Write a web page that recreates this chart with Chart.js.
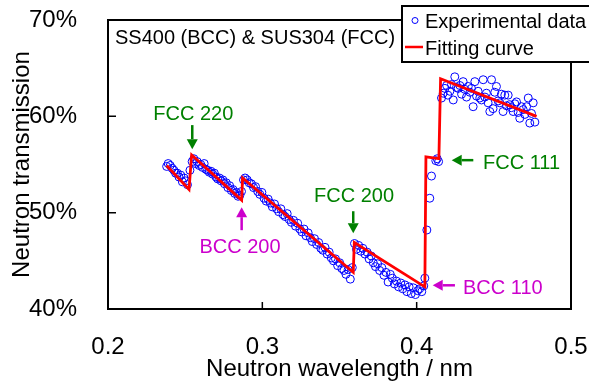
<!DOCTYPE html>
<html>
<head>
<meta charset="utf-8">
<title>Neutron transmission</title>
<script src="https://cdn.jsdelivr.net/npm/chart.js@4.4.1/dist/chart.umd.min.js"></script>
<style>
  body { margin: 0; background: #fff; }
  #wrap { width: 589px; height: 386px; }
</style>
</head>
<body>
<div id="wrap"><canvas id="chart" width="589" height="386"></canvas></div>
<script>
// Datos (longitud de onda en nm, transmisión en %)
const expWavelength = [
  0.2380, 0.2390, 0.2403, 0.2416, 0.2427, 0.2438, 0.2449, 0.2460, 0.2471, 0.2482, 0.2493, 0.2504, 0.2515, 0.2531,
  0.2545, 0.2556, 0.2567, 0.2578, 0.2590, 0.2601, 0.2612, 0.2623, 0.2634, 0.2645, 0.2656, 0.2667, 0.2678, 0.2689, 0.2700,
  0.2711, 0.2722, 0.2733, 0.2744, 0.2755, 0.2766, 0.2777, 0.2788, 0.2799, 0.2810, 0.2821, 0.2832, 0.2843, 0.2854, 0.2865,
  0.2878, 0.2888, 0.2902, 0.2915, 0.2929, 0.2943, 0.2956, 0.2970, 0.2984, 0.2997, 0.3011, 0.3025, 0.3038, 0.3052, 0.3065,
  0.3079, 0.3093, 0.3106, 0.3120, 0.3134, 0.3147, 0.3161, 0.3174, 0.3188, 0.3202, 0.3215, 0.3229, 0.3243, 0.3256, 0.3270,
  0.3283, 0.3297, 0.3311, 0.3324, 0.3338, 0.3352, 0.3365, 0.3379, 0.3392, 0.3406, 0.3420, 0.3433, 0.3447, 0.3461, 0.3474,
  0.3488, 0.3501, 0.3515, 0.3529, 0.3542, 0.3556, 0.3570, 0.3583,
  0.3597, 0.3610, 0.3624, 0.3638, 0.3651, 0.3665, 0.3679, 0.3692, 0.3706, 0.3719, 0.3733, 0.3747, 0.3760, 0.3774, 0.3788,
  0.3801, 0.3815, 0.3829, 0.3842, 0.3856, 0.3869, 0.3883, 0.3897, 0.3910, 0.3924, 0.3937, 0.3951, 0.3965, 0.3978, 0.3992,
  0.4006, 0.4019, 0.4033, 0.4046, 0.4053, 0.4066, 0.4085, 0.4096, 0.4124, 0.4133, 0.4142,
  0.4161, 0.4172, 0.4183, 0.4194, 0.4202, 0.4215, 0.4226, 0.4237, 0.4247, 0.4258, 0.4269, 0.4280, 0.4291, 0.4301, 0.4312,
  0.4323, 0.4334, 0.4345, 0.4355, 0.4366, 0.4377, 0.4388, 0.4398, 0.4409, 0.4420, 0.4431, 0.4442, 0.4452, 0.4463, 0.4474,
  0.4485, 0.4495, 0.4506, 0.4517, 0.4528, 0.4539, 0.4549, 0.4560, 0.4571, 0.4582, 0.4593, 0.4604, 0.4614, 0.4625, 0.4636,
  0.4647, 0.4658, 0.4668, 0.4679, 0.4690, 0.4701, 0.4712, 0.4723, 0.4733, 0.4744, 0.4755, 0.4766
];
const expTransmission = [
  54.8, 55.1, 54.9, 54.6, 54.4, 54.1, 54.1, 53.7, 53.9, 53.2, 53.6, 53.3, 52.9, 54.4,
  55.3, 55.6, 55.1, 55.3, 54.9, 55.0, 54.7, 55.1, 54.5, 54.4, 54.2, 54.3, 54.0, 54.1, 53.7,
  53.5, 53.6, 53.3, 53.4, 53.0, 53.1, 52.6, 52.8, 52.3, 52.4, 52.0, 52.1, 51.7, 51.8, 52.2,
  53.4, 53.6, 53.4, 53.1, 53.0, 52.6, 52.7, 52.2, 51.9, 52.1, 51.5, 51.2, 51.4, 51.0, 50.6,
  50.9, 50.4, 50.1, 50.4, 49.8, 49.6, 49.9, 49.3, 49.0, 49.2, 48.6, 48.9, 48.3, 48.0, 48.3,
  47.6, 47.9, 47.4, 47.0, 47.3, 46.7, 46.9, 46.3, 46.1, 46.4, 45.7, 45.9, 45.3, 45.0, 45.2,
  44.5, 44.8, 44.2, 44.0, 43.6, 44.1, 43.1, 44.3,
  46.8, 46.2, 46.6, 46.0, 46.3, 45.7, 45.9, 45.2, 45.5, 44.8, 44.4, 44.7, 44.0, 44.3, 43.5,
  43.8, 42.8, 43.6, 43.2, 42.6, 42.9, 42.3, 42.7, 42.1, 42.5, 41.8, 42.3, 41.6, 42.2, 41.5,
  41.9, 42.1, 41.8, 42.4, 43.2, 48.2, 51.5, 53.8, 55.4, 55.6, 55.3,
  61.9, 62.4, 62.9, 63.2, 62.2, 62.6, 63.3, 61.7, 64.1, 63.0, 62.9, 63.2, 62.3, 63.6, 62.8,
  62.0, 63.1, 62.5, 62.9, 61.0, 63.6, 62.1, 62.6, 61.9, 61.7, 63.8, 62.0, 62.4, 61.4, 60.5,
  63.8, 60.8, 62.5, 63.1, 61.6, 61.4, 62.3, 60.5, 62.2, 61.1, 62.2, 61.2, 60.9, 60.5, 61.3,
  61.5, 60.4, 59.8, 61.0, 60.7, 60.2, 61.0, 61.9, 59.3, 60.3, 61.4, 59.4
];
const fitWavelength = [0.2380, 0.2525, 0.2542, 0.2866, 0.2872, 0.3589, 0.3596, 0.4053, 0.4060, 0.4144, 0.4155, 0.4777];
const fitTransmission = [54.9, 52.4, 56.0, 51.3, 53.6, 43.8, 46.9, 42.3, 55.8, 55.6, 63.9, 60.0];

const xTicks = [0.2, 0.3, 0.4, 0.5];
const xTickLabels = ['0.2', '0.3', '0.4', '0.5'];
const yTicks = [40, 50, 60, 70];
const yTickLabels = ['40%', '50%', '60%', '70%'];
const seriesNames = ['Experimental data', 'Fitting curve'];
const sampleTitle = 'SS400 (BCC) & SUS304 (FCC)';

const FONT = '"Liberation Sans", Arial, sans-serif';
const GREEN = '#008000';
const MAGENTA = '#cc00cc';

// Anotaciones de los bordes de Bragg (en unidades de datos)
const edges = [
  { text: 'FCC 220', color: GREEN, tx: 0.2553, ty: 59.61, align: 'center', from: [0.2546, 59.09], to: [0.2546, 56.59] },
  { text: 'BCC 200', color: MAGENTA, tx: 0.2855, ty: 45.82, align: 'center', from: [0.2866, 48.18], to: [0.2866, 50.57] },
  { text: 'FCC 200', color: GREEN, tx: 0.3594, ty: 51.12, align: 'center', from: [0.3589, 50.15], to: [0.3589, 47.87] },
  { text: 'FCC 111', color: GREEN, tx: 0.4430, ty: 54.49, align: 'left', from: [0.4367, 55.45], to: [0.4227, 55.45] },
  { text: 'BCC 110', color: MAGENTA, tx: 0.4300, ty: 41.53, align: 'left', from: [0.4248, 42.46], to: [0.4104, 42.46] }
];

function drawArrow(ctx, x1, y1, x2, y2, color) {
  const ang = Math.atan2(y2 - y1, x2 - x1);
  const head = 10, half = 5.5;
  const bx = x2 - head * Math.cos(ang);
  const by = y2 - head * Math.sin(ang);
  ctx.strokeStyle = color;
  ctx.fillStyle = color;
  ctx.lineWidth = 2.5;
  ctx.beginPath();
  ctx.moveTo(x1, y1);
  ctx.lineTo(bx, by);
  ctx.stroke();
  ctx.beginPath();
  ctx.moveTo(x2, y2);
  ctx.lineTo(bx + half * Math.sin(ang), by - half * Math.cos(ang));
  ctx.lineTo(bx - half * Math.sin(ang), by + half * Math.cos(ang));
  ctx.closePath();
  ctx.fill();
}

// Marco del gráfico con marcas hacia dentro
const framePlugin = {
  id: 'framePlugin',
  beforeDatasetsDraw(chart) {
    const { ctx, chartArea: a, scales: { x, y } } = chart;
    ctx.save();
    ctx.strokeStyle = '#000';
    ctx.lineWidth = 2;
    ctx.strokeRect(a.left, a.top, a.right - a.left, a.bottom - a.top);
    ctx.lineWidth = 1.5;
    ctx.beginPath();
    x.ticks.forEach(t => {
      const px = x.getPixelForValue(t.value);
      ctx.moveTo(px, a.bottom);
      ctx.lineTo(px, a.bottom - 7);
    });
    y.ticks.forEach(t => {
      const py = y.getPixelForValue(t.value);
      ctx.moveTo(a.left, py);
      ctx.lineTo(a.left + 8, py);
    });
    ctx.stroke();
    ctx.restore();
  }
};

// Flechas y etiquetas FCC / BCC
const edgePlugin = {
  id: 'edgePlugin',
  afterDatasetsDraw(chart) {
    const { ctx, scales: { x, y } } = chart;
    ctx.save();
    edges.forEach(e => {
      drawArrow(ctx,
        x.getPixelForValue(e.from[0]), y.getPixelForValue(e.from[1]),
        x.getPixelForValue(e.to[0]), y.getPixelForValue(e.to[1]), e.color);
      ctx.fillStyle = e.color;
      ctx.font = '20px ' + FONT;
      ctx.textAlign = e.align;
      ctx.textBaseline = 'alphabetic';
      ctx.fillText(e.text, x.getPixelForValue(e.tx), y.getPixelForValue(e.ty));
    });
    ctx.restore();
  }
};

// Leyenda en recuadro y título de la muestra
const legendPlugin = {
  id: 'legendPlugin',
  afterDraw(chart) {
    const { ctx, chartArea: a } = chart;
    const ds = chart.data.datasets;
    ctx.save();
    ctx.font = '20px ' + FONT;
    ctx.textBaseline = 'alphabetic';
    ctx.textAlign = 'left';
    ctx.fillStyle = '#000';
    ctx.fillText(sampleTitle, a.left + 7, a.top + 23.5);

    ctx.fillStyle = '#fff';
    ctx.fillRect(402, 6, 200, 56);
    ctx.strokeStyle = '#000';
    ctx.lineWidth = 2;
    ctx.strokeRect(402, 6, 200, 56);

    ctx.beginPath();
    ctx.arc(415, 20.5, 3, 0, 2 * Math.PI);
    ctx.strokeStyle = ds[0].borderColor;
    ctx.lineWidth = 1;
    ctx.stroke();

    ctx.beginPath();
    ctx.moveTo(405, 47);
    ctx.lineTo(423, 47);
    ctx.strokeStyle = ds[1].borderColor;
    ctx.lineWidth = 2.5;
    ctx.stroke();

    ctx.fillStyle = '#000';
    ctx.fillText(ds[0].label, 425, 27.5);
    ctx.fillText(ds[1].label, 425, 54.5);
    ctx.restore();
  }
};

const tickFont = { family: FONT, size: 24 };

new Chart(document.getElementById('chart'), {
  type: 'scatter',
  data: {
    datasets: [
      {
        label: seriesNames[0],
        data: expWavelength.map((w, i) => ({ x: w, y: expTransmission[i] })),
        showLine: false,
        pointStyle: 'circle',
        pointRadius: 4,
        pointBorderWidth: 1,
        borderColor: '#0000ff',
        pointBorderColor: '#0000ff',
        backgroundColor: 'rgba(0,0,0,0)',
        pointBackgroundColor: 'rgba(0,0,0,0)',
        order: 1
      },
      {
        label: seriesNames[1],
        data: fitWavelength.map((w, i) => ({ x: w, y: fitTransmission[i] })),
        showLine: true,
        borderColor: '#ff0000',
        borderWidth: 2.8,
        pointRadius: 0,
        tension: 0,
        order: 0
      }
    ]
  },
  options: {
    responsive: false,
    animation: false,
    devicePixelRatio: 1,
    layout: { padding: { top: 20, right: 18, left: 0, bottom: 0 } },
    plugins: {
      legend: { display: false },
      tooltip: { enabled: false }
    },
    scales: {
      x: {
        type: 'linear',
        min: 0.2,
        max: 0.5,
        grid: { display: false },
        border: { display: false },
        afterBuildTicks: s => { s.ticks = xTicks.map(v => ({ value: v })); },
        afterFit: s => {
          s.height = 77;
          s.paddingLeft = 0;
          s.paddingRight = 0;
        },
        ticks: {
          padding: 16,
          color: '#000',
          font: tickFont,
          maxRotation: 0,
          callback: (v, i) => xTickLabels[i]
        },
        title: {
          display: true,
          text: 'Neutron wavelength / nm',
          color: '#000',
          font: tickFont,
          padding: { top: 0, bottom: 2 }
        }
      },
      y: {
        type: 'linear',
        min: 40,
        max: 70,
        grid: { display: false },
        border: { display: false },
        afterBuildTicks: s => { s.ticks = yTicks.map(v => ({ value: v })); },
        afterFit: s => {
          s.width = 108;
          s.paddingTop = 0;
          s.paddingBottom = 0;
        },
        ticks: {
          padding: 23,
          color: '#000',
          font: tickFont,
          callback: (v, i) => yTickLabels[i]
        },
        title: {
          display: true,
          text: 'Neutron transmission',
          color: '#000',
          font: tickFont,
          padding: { top: 8, bottom: 0 }
        }
      }
    }
  },
  plugins: [framePlugin, edgePlugin, legendPlugin]
});
</script>
</body>
</html>
